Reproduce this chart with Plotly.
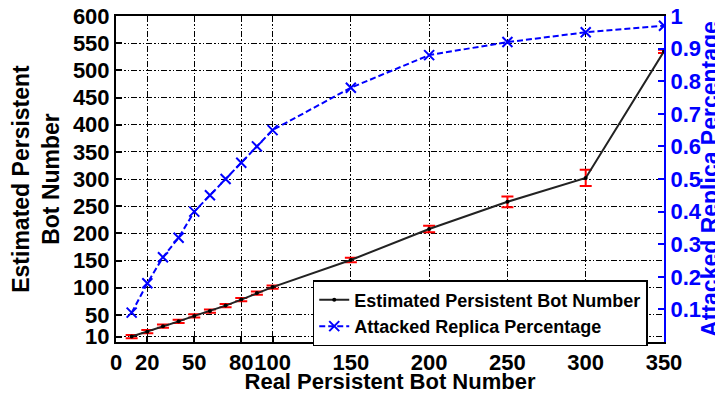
import plotly.graph_objects as go

# data
real_bots = [10, 20, 30, 40, 50, 60, 70, 80, 90, 100, 150, 200, 250, 300, 350]
estimated_bots = [10, 19, 29, 38, 48, 57, 67, 78, 90, 101, 151, 208, 258, 302, 535]
estimated_err = [3, 3, 3, 3, 3, 3, 3, 3, 3, 3, 4, 6, 10, 15, 3]
attacked_pct = [0.09, 0.18, 0.26, 0.32, 0.40, 0.45, 0.50, 0.55, 0.60, 0.65, 0.78, 0.88, 0.92, 0.95, 0.97]

x_ticks = [0, 20, 50, 80, 100, 150, 200, 250, 300, 350]
y_ticks = [10, 50, 100, 150, 200, 250, 300, 350, 400, 450, 500, 550, 600]
y2_ticks = [0.1, 0.2, 0.3, 0.4, 0.5, 0.6, 0.7, 0.8, 0.9, 1.0]
y2_labels = ["0.1", "0.2", "0.3", "0.4", "0.5", "0.6", "0.7", "0.8", "0.9", "1"]

FONT = "Liberation Sans, Arial, Helvetica, sans-serif"
GRID_DASH = "6px,2px,1.5px,2px,1.5px,2px"

fig = go.Figure()
fig.add_trace(go.Scatter(
    x=real_bots, y=estimated_bots, name="Estimated Persistent Bot Number",
    mode="lines+markers",
    line=dict(color="#222222", width=2),
    marker=dict(color="black", size=4, symbol="circle"),
    error_y=dict(type="data", array=estimated_err, visible=True, color="red", thickness=2, width=6),
))
fig.add_trace(go.Scatter(
    x=real_bots, y=attacked_pct, name="Attacked Replica Percentage", yaxis="y2",
    mode="lines+markers",
    line=dict(color="blue", width=2, dash="6px,3px"),
    marker=dict(color="blue", size=10, symbol="x-thin", line=dict(color="blue", width=2)),
))

# page body has an 8px default margin, so the figure is 8px smaller and shifted
fig.update_layout(
    width=715, height=386,
    margin=dict(l=108, r=59, t=8, b=52, autoexpand=False),
    paper_bgcolor="white", plot_bgcolor="white",
    font=dict(family=FONT, size=22, color="black", weight="bold"),
    showlegend=True,
    legend=dict(
        x=0.359, y=0.19, xanchor="left", yanchor="top",
        bgcolor="white", bordercolor="black", borderwidth=1.5,
        font=dict(family=FONT, size=18, color="black", weight="bold"),
        tracegroupgap=0, itemwidth=30,
    ),
    xaxis=dict(
        range=[0, 350], tickvals=x_ticks, ticktext=[str(v) for v in x_ticks],
        tickangle=0, automargin=False, ticklabeloverflow="allow",
        showline=True, linecolor="black", linewidth=2, mirror=True,
        ticks="inside", ticklen=6, tickcolor="black", tickwidth=1.5,
        showgrid=True, gridcolor="black", gridwidth=1.2, griddash=GRID_DASH,
        zeroline=False,
        title=dict(text="Real Persistent Bot Number", standoff=2, font=dict(size=22)),
        tickfont=dict(size=22),
    ),
    yaxis=dict(
        range=[0, 600], tickvals=y_ticks, ticktext=[str(v) for v in y_ticks],
        automargin=False, ticklabeloverflow="allow",
        showline=True, linecolor="black", linewidth=2,
        ticks="inside", ticklen=6, tickcolor="black", tickwidth=1.5,
        showgrid=True, gridcolor="black", gridwidth=1.2, griddash=GRID_DASH,
        zeroline=False,
        title=dict(text="Estimated Persistent<br>Bot Number", standoff=8, font=dict(size=23)),
        tickfont=dict(size=22),
    ),
    yaxis2=dict(
        range=[0, 1], tickvals=y2_ticks, ticktext=y2_labels, overlaying="y", side="right",
        automargin=False, ticklabeloverflow="allow",
        showline=True, linecolor="blue", linewidth=2,
        ticks="inside", ticklen=6, tickcolor="blue", tickwidth=1.5,
        showgrid=False, zeroline=False,
        tickfont=dict(size=22, color="blue"),
        title=dict(text="Attacked Replica Percentage", standoff=3, font=dict(size=23, color="blue")),
    ),
)

fig.write_html("out.html")
